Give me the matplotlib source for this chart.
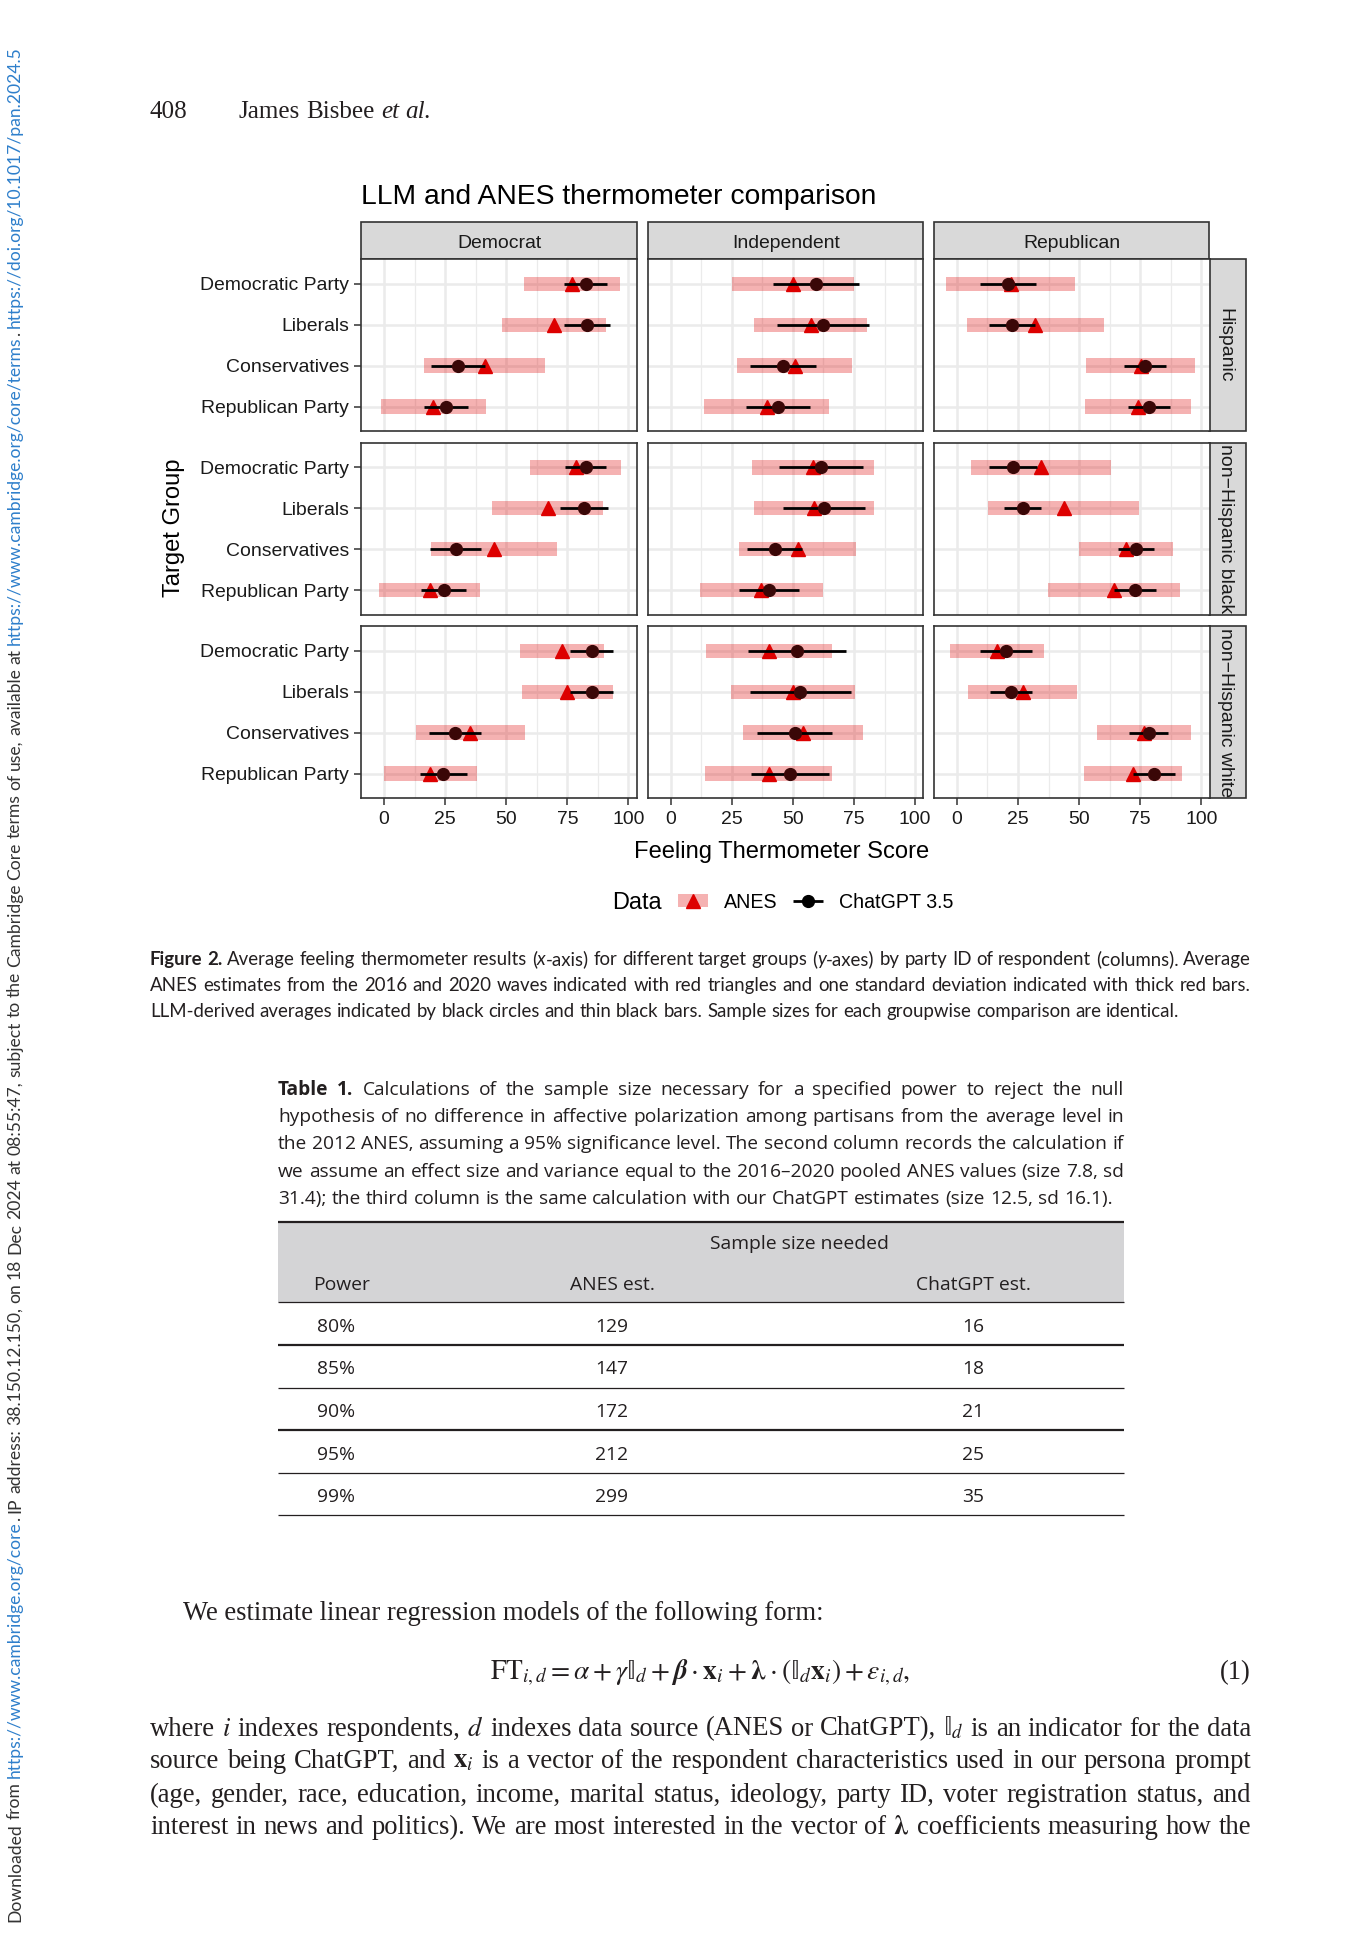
import re
import numpy as np
import matplotlib
matplotlib.use("Agg")
import matplotlib.pyplot as plt
from matplotlib.patches import Rectangle
from matplotlib.font_manager import FontProperties
from matplotlib.mathtext import MathTextParser

# ---------------- data ----------------
targets = ["Democratic Party", "Liberals", "Conservatives", "Republican Party"]
party_id = ["Democrat", "Independent", "Republican"]
race_groups = ["Hispanic", "non\u2212Hispanic black", "non\u2212Hispanic white"]

# rows of each list: respondent party (Democrat, Independent, Republican); entries: targets
anes_mean_hispanic = [[76.9, 69.4, 41.2, 20.2], [50.0, 57.3, 50.7, 39.2], [22.0, 32.1, 75.2, 74.1]]
anes_sd_hispanic = [[19.7, 21.3, 24.8, 21.5], [25.1, 23.1, 23.5, 25.5], [26.5, 28.0, 22.3, 21.7]]
gpt_mean_hispanic = [[82.5, 83.1, 30.2, 25.3], [59.5, 62.3, 46.0, 43.8], [21.0, 22.7, 77.0, 78.8]]
gpt_sd_hispanic = [[8.7, 9.4, 10.9, 9.0], [17.6, 19.0, 13.5, 13.2], [11.4, 9.4, 8.4, 8.6]]

anes_mean_black = [[78.4, 66.9, 44.9, 18.7], [58.2, 58.7, 52.0, 37.1], [34.3, 43.7, 69.2, 64.4]]
anes_sd_black = [[18.6, 22.8, 25.8, 20.7], [25.0, 24.5, 24.0, 25.2], [28.6, 30.8, 19.3, 27.1]]
gpt_mean_black = [[82.6, 81.9, 29.3, 24.4], [61.6, 62.8, 42.5, 40.2], [22.9, 27.0, 73.2, 72.8]]
gpt_sd_black = [[8.4, 9.7, 10.5, 9.1], [17.2, 16.7, 11.3, 12.2], [9.7, 7.6, 7.3, 8.5]]

anes_mean_white = [[72.7, 75.0, 35.2, 18.9], [40.0, 50.2, 54.1, 40.0], [16.4, 27.0, 76.6, 72.0]]
anes_sd_white = [[17.2, 18.7, 22.3, 19.1], [25.8, 25.4, 24.4, 25.9], [19.3, 22.3, 19.3, 20.0]]
gpt_mean_white = [[84.9, 84.9, 29.0, 24.3], [51.6, 53.0, 50.7, 48.8], [20.2, 22.2, 78.5, 80.7]]
gpt_sd_white = [[9.0, 9.0, 10.8, 9.5], [20.0, 20.7, 15.3, 15.9], [10.7, 8.5, 8.1, 8.6]]

x_ticks = [0, 25, 50, 75, 100]

power_levels = ["80%", "85%", "90%", "95%", "99%"]
n_anes = [129, 147, 172, 212, 299]
n_chatgpt = [16, 18, 21, 25, 35]

# ---------------- setup ----------------
plt.rcParams['font.family'] = ['Liberation Sans', 'DejaVu Sans']
plt.rcParams['mathtext.fontset'] = 'stix'

W, H = 1370, 1944
fig = plt.figure(figsize=(W / 100, H / 100), dpi=100)
fig.patch.set_facecolor('white')
page = fig.add_axes([0, 0, 1, 1])
page.set_xlim(0, W)
page.set_ylim(H, 0)
page.axis('off')
renderer = fig.canvas.get_renderer()

INK = '#231F20'
BLUE = '#2E7FCB'
CAP = 0.716
_cache = {}


def px(fs):
    return fs * 100.0 / 72.0


def measure(s, kw):
    key = (s, tuple(sorted((k, str(v)) for k, v in kw.items())))
    if key in _cache:
        return _cache[key]
    t = page.text(0, 0, s, **kw)
    w = t.get_window_extent(renderer).width
    t.remove()
    _cache[key] = w
    return w


def fit_size(s, width, kw, ref=12.0):
    return ref * width / measure(s, dict(kw, fontsize=ref))


def parse_word(w):
    segs = []
    for p in re.split(r'(«[a-z]+\|[^»]*»)', w):
        if not p:
            continue
        if p.startswith('«'):
            st, tx = p[1:-1].split('|', 1)
            segs.append((tx, st))
        else:
            segs.append((p, ''))
    return segs


def style_kw(st, base):
    kw = dict(base)
    if 'it' in st:
        kw['fontstyle'] = 'italic'
    if 'bf' in st:
        kw['fontweight'] = 'bold'
    if 'bl' in st:
        kw['color'] = BLUE
    return kw


def space_w(kw):
    return measure('x x', kw) - measure('xx', kw)


def word_widths(words, kw):
    return [[measure(t, style_kw(s, kw)) for t, s in wd] for wd in words]


def natural(words, kw):
    ww = word_widths(words, kw)
    return sum(sum(w) for w in ww) + space_w(kw) * (len(words) - 1)


def draw_words(words, kw, start, length, fixed, justify, rot=0):
    ww = word_widths(words, kw)
    tot = sum(sum(w) for w in ww)
    if justify and len(words) > 1:
        gap = (length - tot) / (len(words) - 1)
    else:
        gap = space_w(kw)
    pos = start
    for wd, w in zip(words, ww):
        p = pos
        for (t, s), wi in zip(wd, w):
            k = style_kw(s, kw)
            if rot == 0:
                page.text(p, fixed, t, ha='left', va='baseline', **k)
                p += wi
            else:
                page.text(fixed, p, t, rotation=90, rotation_mode='anchor',
                          ha='left', va='baseline', **k)
                p -= wi
        if rot == 0:
            pos += sum(w) + gap
        else:
            pos -= sum(w) + gap


def paragraph(lines, x0, x1, baselines, base, justify_last=False, fs=None, ref=12.0):
    toks = [[parse_word(w) for w in ln.split(' ')] for ln in lines]
    if fs is None:
        k = dict(base, fontsize=ref)
        nats = [natural(t, k) for i, t in enumerate(toks)
                if justify_last or i < len(toks) - 1]
        fs = ref * (x1 - x0) / max(nats) * 0.995
    kw = dict(base, fontsize=fs)
    for i, (t, yb) in enumerate(zip(toks, baselines)):
        just = justify_last or i < len(toks) - 1
        draw_words(t, kw, x0, x1 - x0, yb, just)
    return fs


def mt_ok(s):
    try:
        MathTextParser('agg').parse(s, dpi=100, prop=FontProperties(size=12))
        return True
    except Exception:
        return False


BSYM_L = r'\boldsymbol{\lambda}' if mt_ok(r'$\boldsymbol{\lambda}$') else r'\lambda'
BSYM_B = r'\boldsymbol{\beta}' if mt_ok(r'$\boldsymbol{\beta}$') else r'\beta'
if mt_ok(r'$\mathrm{\mathbb{I}}_d$'):
    BB_I = r'\mathrm{\mathbb{I}}'
elif mt_ok(r'$\mathbb{I}_d$'):
    BB_I = r'\mathbb{I}'
else:
    BB_I = r'\mathrm{I}'
EPS = r'\epsilon'

# ---------------- chart ----------------
SANS = dict(fontfamily='Liberation Sans', color='black')
fs_title = fit_size("LLM and ANES thermometer comparison", 516, SANS)
fs_tick = fit_size("Democratic Party", 149, SANS)
fs_strip = fit_size("Independent", 108, SANS)
fs_axis = fit_size("Feeling Thermometer Score", 296, SANS)
fs_legt = fit_size("Data", 50, SANS)
fs_leg = fit_size("ChatGPT 3.5", 114, SANS)

col_x = [361.4, 648.1, 934.2]
pw = 275.3
row_y = [259.3, 442.8, 626.3]
ph = 171.8
xlim = (-9.3, 103.4)

anes_mean = [anes_mean_hispanic, anes_mean_black, anes_mean_white]
anes_sd = [anes_sd_hispanic, anes_sd_black, anes_sd_white]
gpt_mean = [gpt_mean_hispanic, gpt_mean_black, gpt_mean_white]
gpt_sd = [gpt_sd_hispanic, gpt_sd_black, gpt_sd_white]

PINK = (0.87, 0.0, 0.0)
TRI = '#DD0000'
DOT = '#3a0707'

ypos = np.arange(len(targets))[::-1]
for r in range(3):
    for c in range(3):
        ax = fig.add_axes([col_x[c] / W, 1 - (row_y[r] + ph) / H, pw / W, ph / H])
        ax.set_facecolor('white')
        ax.set_xlim(*xlim)
        ax.set_ylim(-0.6, 3.6)
        am = np.array(anes_mean[r][c])
        asd = np.array(anes_sd[r][c])
        gm = np.array(gpt_mean[r][c])
        gsd = np.array(gpt_sd[r][c])
        ax.set_xticks(x_ticks)
        ax.set_xticks([12.5, 37.5, 62.5, 87.5], minor=True)
        ax.set_yticks(ypos)
        ax.set_yticklabels(targets)
        ax.grid(which='major', color='#EBEBEB', lw=1.8)
        ax.grid(which='minor', axis='x', color='#EBEBEB', lw=0.9)
        ax.set_axisbelow(True)
        ax.barh(ypos, 2 * asd, left=am - asd, height=0.35, color=PINK, alpha=0.3,
                lw=0, zorder=2)
        ax.plot(am, ypos, ls='none', marker='^', ms=10, color=TRI, mec=TRI, zorder=3)
        ax.hlines(ypos, gm - gsd, gm + gsd, color='black', lw=2, zorder=4)
        ax.plot(gm, ypos, ls='none', marker='o', ms=8.5, color=DOT, mec=DOT, zorder=5)
        for sp in ax.spines.values():
            sp.set_color('#333333')
            sp.set_linewidth(1.2)
            sp.set_zorder(6)
        ax.tick_params(which='major', length=5, width=1.1, color='#333333',
                       labelsize=fs_tick, labelcolor='#1a1a1a')
        ax.tick_params(axis='x', pad=4)
        ax.tick_params(axis='y', pad=4)
        ax.tick_params(which='minor', length=0)
        if c > 0:
            ax.tick_params(axis='y', left=False, labelleft=False)
        if r < 2:
            ax.tick_params(axis='x', bottom=False, labelbottom=False)

STRIP_FC = '#D9D9D9'
STRIP_EC = '#333333'
strip_top, strip_bot = 222.0, row_y[0]
for c, lab in enumerate(party_id):
    page.add_patch(Rectangle((col_x[c], strip_top), pw, strip_bot - strip_top,
                             fc=STRIP_FC, ec=STRIP_EC, lw=1.2))
    page.text(col_x[c] + pw / 2, (strip_top + strip_bot) / 2 + CAP * px(fs_strip) / 2, lab,
              ha='center', va='baseline', fontsize=fs_strip, color='#1a1a1a')
rs_x0, rs_x1 = col_x[2] + pw, 1246.0
for r, lab in enumerate(race_groups):
    page.add_patch(Rectangle((rs_x0, row_y[r]), rs_x1 - rs_x0, ph,
                             fc=STRIP_FC, ec=STRIP_EC, lw=1.2))
    page.text((rs_x0 + rs_x1) / 2 - CAP * px(fs_strip) / 2, row_y[r] + ph / 2, lab,
              rotation=-90, rotation_mode='anchor', ha='center', va='baseline',
              fontsize=fs_strip, color='#1a1a1a')

page.text(361.4, 204, "LLM and ANES thermometer comparison", ha='left', va='baseline',
          fontsize=fs_title, color='black')
page.text(782, 849 + CAP * px(fs_axis) / 2, "Feeling Thermometer Score", ha='center',
          va='baseline', fontsize=fs_axis, color='black')
page.text(171 + CAP * px(fs_axis) / 2, 528, "Target Group", rotation=90,
          rotation_mode='anchor', ha='center', va='baseline', fontsize=fs_axis, color='black')

# legend
leg_y = 900.5
page.text(612, leg_y + CAP * px(fs_legt) / 2, "Data", ha='left', va='baseline',
          fontsize=fs_legt, color='black')
page.add_patch(Rectangle((678, leg_y - 6.5), 30, 13, fc=PINK, alpha=0.3, lw=0))
page.plot([693], [leg_y], ls='none', marker='^', ms=10, color=TRI, mec=TRI)
page.text(724, leg_y + CAP * px(fs_leg) / 2, "ANES", ha='left', va='baseline',
          fontsize=fs_leg, color='black')
page.plot([793, 823], [leg_y, leg_y], color='black', lw=2, solid_capstyle='butt')
page.plot([808], [leg_y], ls='none', marker='o', ms=8.5, color='black')
page.text(839, leg_y + CAP * px(fs_leg) / 2, "ChatGPT 3.5", ha='left', va='baseline',
          fontsize=fs_leg, color='black')

# ---------------- figure caption ----------------
fig_caption = [
    "«bf|Figure» «bf|2.» Average feeling thermometer results («it|x»-axis) for different target groups («it|y»-axes) by party ID of respondent (columns). Average",
    "ANES estimates from the 2016 and 2020 waves indicated with red triangles and one standard deviation indicated with thick red bars.",
    "LLM-derived averages indicated by black circles and thin black bars. Sample sizes for each groupwise comparison are identical.",
]
paragraph(fig_caption, 150, 1251, [965, 991, 1017], dict(fontfamily='Lato', color=INK))

# ---------------- table caption ----------------
tab_caption = [
    "«bf|Table» «bf|1.» Calculations of the sample size necessary for a specified power to reject the null",
    "hypothesis of no difference in affective polarization among partisans from the average level in",
    "the 2012 ANES, assuming a 95% significance level. The second column records the calculation if",
    "we assume an effect size and variance equal to the 2016\u20132020 pooled ANES values (size 7.8, sd",
    "31.4); the third column is the same calculation with our ChatGPT estimates (size 12.5, sd 16.1).",
]
paragraph(tab_caption, 278, 1124, [1094.5, 1121.5, 1148.5, 1176.5, 1203.5],
          dict(fontfamily='Open Sans', color=INK))

# ---------------- table ----------------
tx0, tx1 = 278, 1124
page.add_patch(Rectangle((tx0, 1221.5), tx1 - tx0, 1302 - 1221.5, fc='#D4D4D6', lw=0))
rule_y = [1221.5, 1302, 1345, 1387.5, 1430, 1473, 1515]
rule_w = [1.6, 0.9, 1.6, 0.9, 1.6, 0.9, 0.9]
for yy, lw in zip(rule_y, rule_w):
    page.plot([tx0, tx1], [yy, yy], color=INK, lw=lw, solid_capstyle='butt')
TAB = dict(fontfamily='Open Sans', color=INK)
fs_tab = fit_size("Sample size needed", 177.5, TAB)
ct = CAP * px(fs_tab) / 2
page.text(799, 1242 + ct, "Sample size needed", ha='center', va='baseline', fontsize=fs_tab, **TAB)
page.text(313, 1283 + ct, "Power", ha='left', va='baseline', fontsize=fs_tab, **TAB)
page.text(612, 1283 + ct, "ANES est.", ha='center', va='baseline', fontsize=fs_tab, **TAB)
page.text(973, 1283 + ct, "ChatGPT est.", ha='center', va='baseline', fontsize=fs_tab, **TAB)
row_c = [1325, 1367, 1410, 1453, 1495]
for yc, pl, na, nc in zip(row_c, power_levels, n_anes, n_chatgpt):
    page.text(317, yc + ct, pl, ha='left', va='baseline', fontsize=fs_tab, **TAB)
    page.text(612, yc + ct, str(na), ha='center', va='baseline', fontsize=fs_tab, **TAB)
    page.text(973, yc + ct, str(nc), ha='center', va='baseline', fontsize=fs_tab, **TAB)

# ---------------- body text ----------------
SERIF = dict(fontfamily='Liberation Serif', color=INK)
body = [
    r"where $i$ indexes respondents, $d$ indexes data source (ANES or ChatGPT), $" + BB_I + r"_d$ is an indicator for the data",
    r"source being ChatGPT, and $\mathbf{x}_i$ is a vector of the respondent characteristics used in our persona prompt",
    r"(age, gender, race, education, income, marital status, ideology, party ID, voter registration status, and",
    r"interest in news and politics). We are most interested in the vector of $" + BSYM_L + r"$ coefficients measuring how the",
]
fs_body = paragraph(body, 150, 1251, [1735.5, 1767.5, 1801.5, 1833.5], SERIF, justify_last=True)
page.text(183.5, 1620, "We estimate linear regression models of the following form:",
          ha='left', va='baseline', fontsize=fs_body, **SERIF)

eq = (r"$\mathrm{FT}_{i,d} = \alpha + \gamma " + BB_I + r"_d + " + BSYM_B +
      r"\cdot\mathbf{x}_i + " + BSYM_L + r"\cdot\left(" + BB_I +
      r"_d\mathbf{x}_i\right) + " + EPS + r"_{i,d},$")
fs_eq = fit_size(eq, 421, SERIF)
page.text(700.5, 1679.5, eq, ha='center', va='baseline', fontsize=fs_eq, **SERIF)
page.text(1251, 1679.5, "(1)", ha='right', va='baseline', fontsize=fs_body, **SERIF)

# header
HEAD = dict(fontfamily='Liberation Serif', color=INK)
fs_head = fit_size("James Bisbee et al.", 191, HEAD)
page.text(150, 118, "408", ha='left', va='baseline', fontsize=fs_head, **HEAD)
paragraph(["James Bisbee «it|et» «it|al.»"], 239, 2000, [118], HEAD, fs=fs_head)

# sidebar
side = ("Downloaded from «bl|https://www.cambridge.org/core». IP address: 38.150.12.150, on 18 Dec 2024 "
        "at 08:55:47, subject to the Cambridge Core terms of use, available at "
        "«bl|https://www.cambridge.org/core/terms». «bl|https://doi.org/10.1017/pan.2024.5»")
side_words = [parse_word(w) for w in side.split(' ')]
SIDE = dict(fontfamily='Lato', color='#333333')
fs_side = 12.0 * (1922 - 46) / natural(side_words, dict(SIDE, fontsize=12.0)) * 0.995
draw_words(side_words, dict(SIDE, fontsize=fs_side), 1922, 1922 - 46, 20, True, rot=90)

fig.savefig('out.png', dpi=100)
